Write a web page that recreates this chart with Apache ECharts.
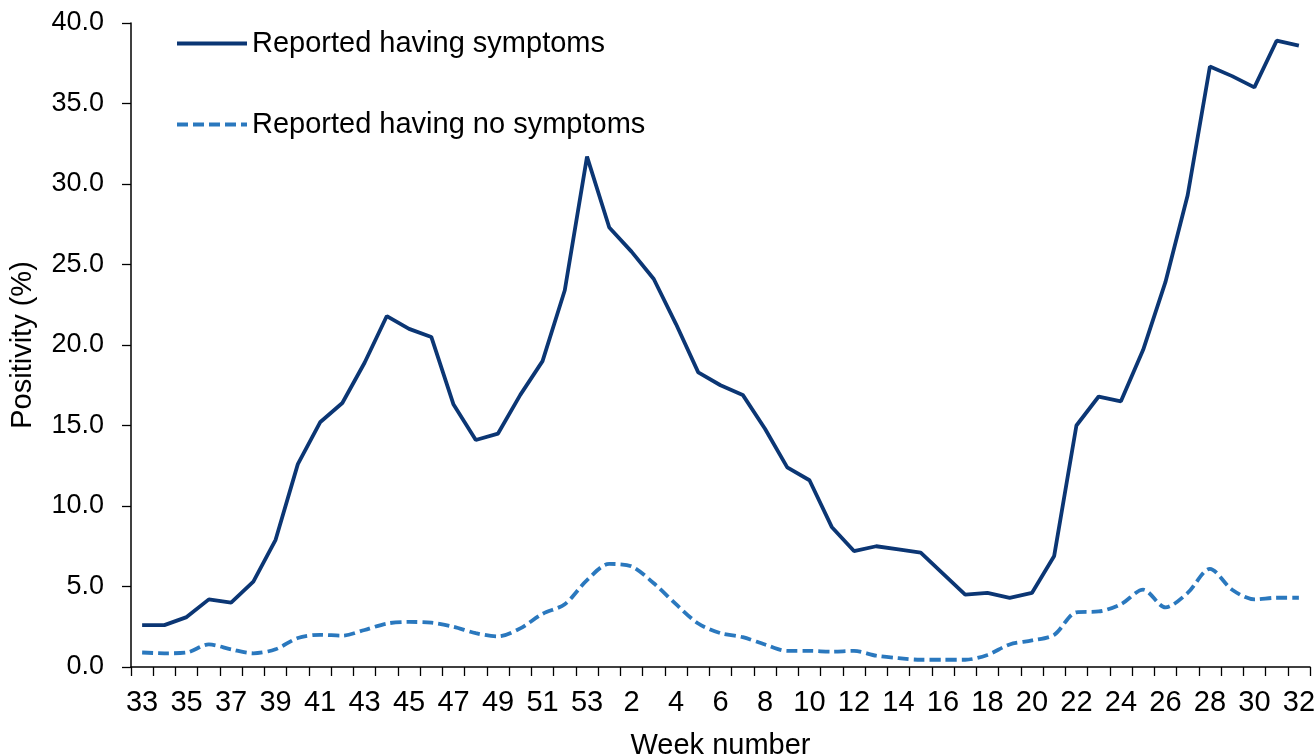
<!DOCTYPE html>
<html>
<head>
<meta charset="utf-8">
<script src="https://cdn.jsdelivr.net/npm/echarts@6/dist/echarts.min.js"></script>
<style>html,body{margin:0;padding:0;background:#fff}#c{width:1316px;height:756px}</style>
</head>
<body>
<div id="c"></div>
<script>
const weeks = ['33','34','35','36','37','38','39','40','41','42','43','44','45','46','47','48','49','50','51','52','53',
  '1','2','3','4','5','6','7','8','9','10','11','12','13','14','15','16','17','18','19','20','21','22','23','24','25','26','27','28','29','30','31','32'];
const symptoms = [2.6,2.6,3.1,4.2,4.0,5.3,7.9,12.6,15.2,16.4,18.9,21.8,21.0,20.5,16.3,14.1,14.5,16.9,19.0,23.4,31.7,
  27.3,25.8,24.1,21.3,18.3,17.5,16.9,14.8,12.4,11.6,8.7,7.2,7.5,7.3,7.1,5.8,4.5,4.6,4.3,4.6,6.9,15.0,16.8,16.5,19.7,23.9,29.3,37.3,36.7,36.0,38.9,38.6];
const noSymptoms = [0.9,0.85,0.9,1.4,1.1,0.85,1.1,1.8,2.0,1.95,2.3,2.7,2.8,2.75,2.5,2.1,1.9,2.4,3.3,3.9,5.4,
  6.4,6.25,5.2,3.9,2.7,2.1,1.85,1.4,1.0,1.0,0.95,1.0,0.7,0.55,0.45,0.45,0.45,0.75,1.4,1.65,2.0,3.4,3.45,3.9,4.8,3.7,4.6,6.1,4.8,4.2,4.3,4.3];
const seriesNames = ['Reported having symptoms','Reported having no symptoms'];

const font = 'Liberation Sans, Arial, sans-serif';
const chart = echarts.init(document.getElementById('c'));
chart.setOption({
  backgroundColor: '#fff',
  animation: false,
  textStyle: {fontFamily: font},
  grid: {left: 131, right: 6, top: 23, bottom: 89, containLabel: false, outerBoundsMode: 'none'},
  legend: {
    orient: 'vertical', left: 170, top: 24, itemWidth: 70, itemHeight: 30, itemGap: 52,
    itemStyle: {opacity: 0},
    lineStyle: {width: 4},
    textStyle: {fontFamily: font, fontSize: 29, color: '#000'},
    data: seriesNames
  },
  xAxis: {
    type: 'category', data: weeks, boundaryGap: true,
    name: 'Week number', nameLocation: 'middle', nameGap: 64,
    nameTextStyle: {fontFamily: font, fontSize: 29, color: '#000'},
    axisLine: {lineStyle: {color: '#000', width: 1.5}},
    axisTick: {show: true, interval: 0, length: 9, lineStyle: {color: '#000', width: 1.3}},
    axisLabel: {interval: 1, margin: 21, fontFamily: font, fontSize: 29, color: '#000'},
    splitLine: {show: false}
  },
  yAxis: {
    type: 'value', min: 0, max: 40, interval: 5,
    name: 'Positivity (%)', nameLocation: 'middle', nameGap: 94,
    nameTextStyle: {fontFamily: font, fontSize: 29, color: '#000'},
    axisLine: {show: true, lineStyle: {color: '#000', width: 1.5}},
    axisTick: {show: true, length: 9, lineStyle: {color: '#000', width: 1.3}},
    axisLabel: {margin: 27, fontFamily: font, fontSize: 27, color: '#000', formatter: v => v.toFixed(1)},
    splitLine: {show: false}
  },
  series: [
    {name: seriesNames[0], type: 'line', data: symptoms, symbol: 'none', showSymbol: false,
     lineStyle: {color: '#0B3674', width: 3.8}, itemStyle: {color: '#0B3674'}},
    {name: seriesNames[1], type: 'line', data: noSymptoms, symbol: 'none', showSymbol: false, smooth: 0.3,
     lineStyle: {color: '#2A78BE', width: 3.8, type: [11, 5]}, itemStyle: {color: '#2A78BE'}}
  ]
});
</script>
</body>
</html>
